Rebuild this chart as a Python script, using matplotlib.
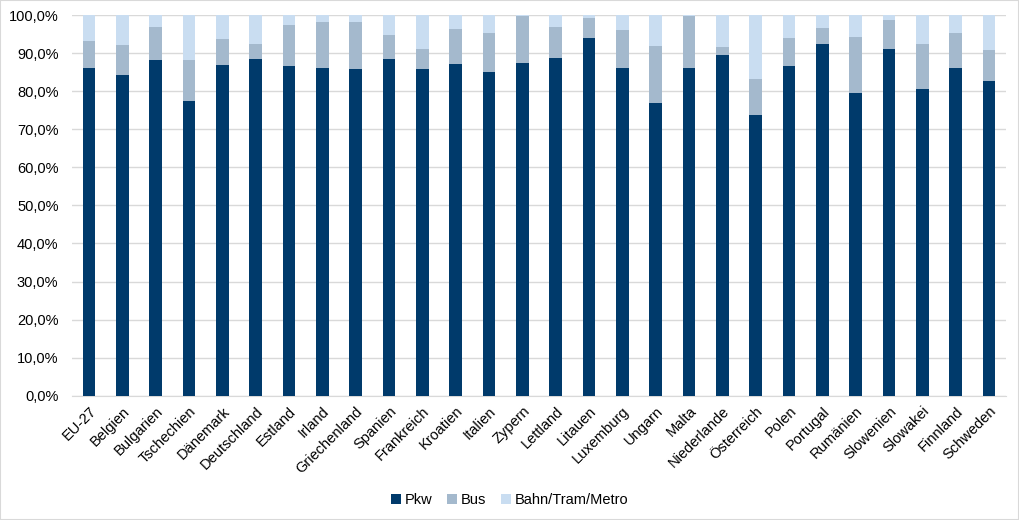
import numpy as np
import matplotlib.pyplot as plt
from matplotlib.ticker import FuncFormatter

plt.rcParams['font.family'] = ['Liberation Sans', 'DejaVu Sans']

# Modal split (in %) by country
countries = ['EU-27', 'Belgien', 'Bulgarien', 'Tschechien', 'Dänemark', 'Deutschland',
             'Estland', 'Irland', 'Griechenland', 'Spanien', 'Frankreich', 'Kroatien',
             'Italien', 'Zypern', 'Lettland', 'Litauen', 'Luxemburg', 'Ungarn', 'Malta',
             'Niederlande', 'Österreich', 'Polen', 'Portugal', 'Rumänien', 'Slowenien',
             'Slowakei', 'Finnland', 'Schweden']
pkw = [86.1, 84.2, 88.2, 77.4, 86.8, 88.4, 86.6, 86.1, 85.8, 88.4, 85.8, 87.1,
       85.0, 87.4, 88.7, 93.9, 86.1, 76.8, 86.1, 89.5, 73.7, 86.6, 92.4, 79.5,
       91.1, 80.5, 86.1, 82.6]
bus = [7.1, 7.9, 8.6, 10.8, 6.9, 4.0, 10.9, 12.1, 12.4, 6.3, 5.3, 9.2,
       10.3, 12.3, 8.1, 5.3, 10.0, 15.0, 13.6, 2.1, 9.5, 7.3, 4.2, 14.7,
       7.6, 11.9, 9.2, 8.2]
bahn = [100 - p - b for p, b in zip(pkw, bus)]

fig = plt.figure(figsize=(10.19, 5.2), dpi=100)
ax = fig.add_axes([0.071, 0.239, 0.916, 0.732])

x = np.arange(len(countries))
w = 0.38
ax.bar(x, pkw, w, color='#003A6B', label='Pkw', zorder=3)
ax.bar(x, bus, w, bottom=pkw, color='#A4B9CD', label='Bus', zorder=3)
ax.bar(x, bahn, w, bottom=np.array(pkw) + np.array(bus), color='#C9DDF1',
       label='Bahn/Tram/Metro', zorder=3)

ax.set_xlim(-0.5, len(countries) - 0.5)
ax.set_ylim(0, 100)
ax.set_yticks(np.arange(0, 101, 10))
ax.yaxis.set_major_formatter(FuncFormatter(lambda v, p: f'{v:.1f}%'.replace('.', ',')))
ax.grid(axis='y', color='#D9D9D9', linewidth=1, zorder=0)
ax.set_xticks(x)
ax.set_xticklabels(countries, rotation=45, ha='right', rotation_mode='anchor')
ax.tick_params(axis='both', length=0, labelsize=10.5, colors='black')
ax.tick_params(axis='x', pad=6)
ax.tick_params(axis='y', pad=10)
for s in ['top', 'right', 'left']:
    ax.spines[s].set_visible(False)
ax.spines['bottom'].set_color('#D9D9D9')

fig.legend(loc='lower center', bbox_to_anchor=(0.5, 0.0), ncol=3, frameon=False,
           fontsize=10.5, handlelength=0.7, handleheight=0.7, handletextpad=0.25,
           columnspacing=1.0)

border = plt.Rectangle((0, 0), 1, 1, transform=fig.transFigure, fill=False,
                       edgecolor='#D9D9D9', linewidth=1.5)
fig.patches.append(border)

fig.savefig('out.png', dpi=100)
